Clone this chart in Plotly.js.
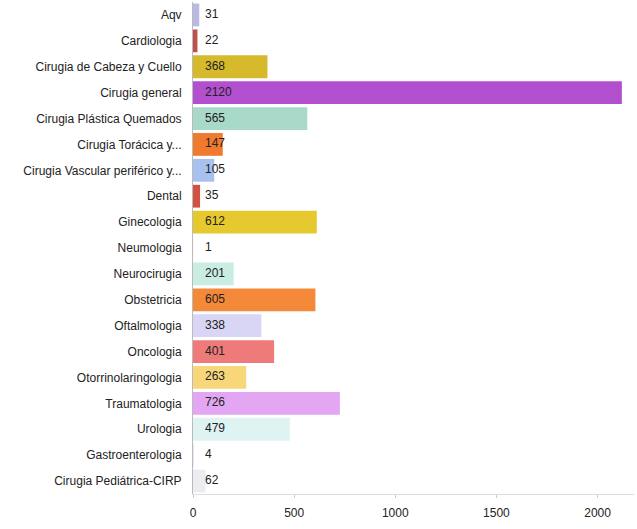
<!DOCTYPE html>
<html><head><meta charset="utf-8">
<script src="https://cdn.plot.ly/plotly-3.0.1.min.js"></script>
<style>body{margin:0;background:#fff}</style>
</head><body>
<div id="chart" style="width:637px;height:529px"></div>
<script>
const categories = ["Aqv","Cardiologia","Cirugia de Cabeza y Cuello","Cirugia general","Cirugia Plástica Quemados","Cirugia Torácica y...","Cirugia Vascular periférico y...","Dental","Ginecologia","Neumologia","Neurocirugia","Obstetricia","Oftalmologia","Oncologia","Otorrinolaringologia","Traumatologia","Urologia","Gastroenterologia","Cirugia Pediátrica-CIRP"];
const values = [31,22,368,2120,565,147,105,35,612,1,201,605,338,401,263,726,479,4,62];
const colors = ["#b9b9e3","#c0504d","#d6ba2c","#b24fcf","#a9d9c9","#f07b2f","#a9c1ef","#cf5242","#e6c92f","#f3e9c6","#c9ece3","#f5893a","#d9d5f4","#ef7a7a","#f7d77a","#e2a6f3","#dff3f3","#e8e0e8","#ecedf3"];
const tickVals = [0,500,1000,1500,2000];

const FONT = 'Liberation Sans Narrow, Arial Narrow, Liberation Sans, sans-serif';
const bars = {
  type:'bar', orientation:'h', y:categories, x:values,
  marker:{color:colors}, hoverinfo:'x+y'
};
const labels = {
  type:'scatter', mode:'text', y:categories, x:values.map(()=>0),
  text:values.map(v => '\u2002\u2002' + v), textposition:'middle right',
  textfont:{family:FONT, size:12, color:'#222'},
  hoverinfo:'skip'
};
const layout = {
  width:637, height:529,
  margin:{l:193, r:3, t:2, b:35},
  paper_bgcolor:'#fff', plot_bgcolor:'#fff',
  showlegend:false, bargap:0.12,
  font:{family:FONT, size:12, color:'#222'},
  yaxis:{range:[categories.length-0.5,-0.5], autorange:false, showgrid:false, showline:true, linecolor:'#bbb', linewidth:1, ticks:'', ticklabelstandoff:8, tickfont:{size:12, color:'#222'}},
  xaxis:{range:[0,2180], autorange:false, tickvals:tickVals, ticktext:tickVals.map(String), showgrid:false, zeroline:false, showline:true, linecolor:'#ddd', ticks:'outside', ticklen:3, tickcolor:'#ccc', ticklabelstandoff:5, tickfont:{size:12,color:'#222'}}
};
Plotly.newPlot('chart',[bars,labels],layout,{displayModeBar:false, staticPlot:true});
</script>
</body></html>
